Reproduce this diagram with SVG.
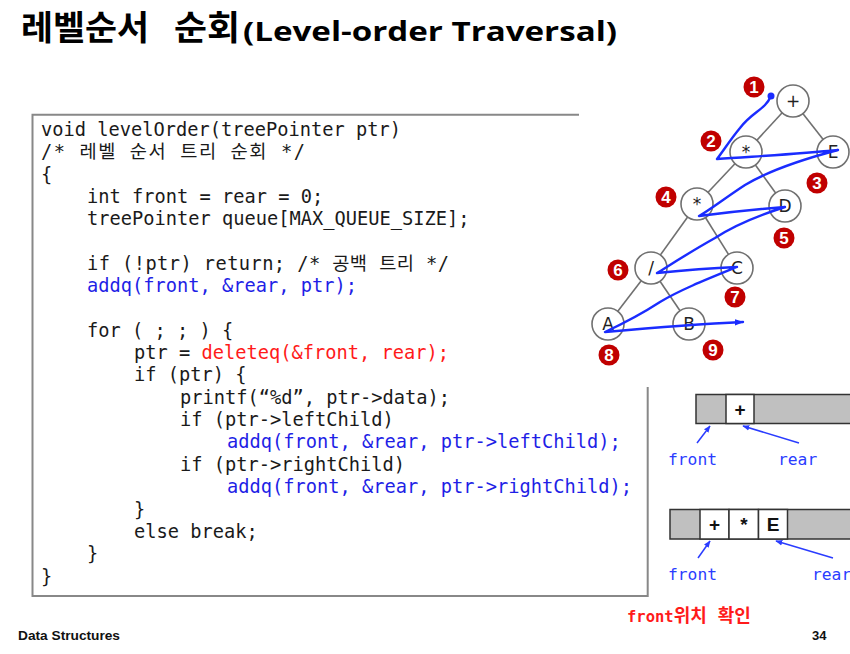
<svg xmlns="http://www.w3.org/2000/svg" width="850" height="654" viewBox="0 0 850 654">
<defs>
<style>
.code{font-family:"DejaVu Sans Mono","Noto Sans CJK KR",monospace;font-size:18.7px;fill:#1a1a1a}
.blue{fill:#1f1fe6}
.red{fill:#ff1a1a}
.edge{stroke:#707070;stroke-width:1.6;fill:none}
.node circle{fill:#fff;stroke:#707070;stroke-width:1.6}
.node text{font-family:"DejaVu Sans","Liberation Sans",sans-serif;font-size:17px;fill:#222;text-anchor:middle}
.num circle{fill:#c00000}
.num text{font-family:"Liberation Sans",sans-serif;font-weight:bold;font-size:17px;fill:#fff;text-anchor:middle}
.path{stroke:#1a2cff;stroke-width:2.4;fill:none;stroke-linecap:round;stroke-linejoin:round}
.gray{fill:#c0c0c0;stroke:#333;stroke-width:1.5}
.cell{fill:#fff;stroke:#333;stroke-width:1.5}
.ctext{font-family:"Liberation Sans",sans-serif;font-weight:bold;font-size:19px;fill:#111;text-anchor:middle}
.qarrow{stroke:#2a3cff;stroke-width:1.5;fill:none}
.qlabel{font-family:"DejaVu Sans Mono","Liberation Mono",monospace;font-size:16.3px;fill:#2a3cff}
</style>
<marker id="ah" viewBox="0 0 10 10" refX="9" refY="5" markerWidth="7" markerHeight="7" orient="auto" markerUnits="userSpaceOnUse">
<path d="M0,1 L10,5 L0,9 z" fill="#2a3cff"/>
</marker>
<marker id="ahb" viewBox="0 0 10 10" refX="9" refY="5" markerWidth="9" markerHeight="9" orient="auto" markerUnits="userSpaceOnUse">
<path d="M0,1.5 L10,5 L0,8.5 z" fill="#1a2cff"/>
</marker>
</defs>
<rect width="850" height="654" fill="#fff"/>

<!-- Title -->
<g id="title">
<text x="21" y="40" font-family="'Noto Sans CJK KR',sans-serif" font-weight="bold" font-size="34px" fill="#000" textLength="128" lengthAdjust="spacingAndGlyphs">레벨순서</text>
<text x="174" y="40" font-family="'Noto Sans CJK KR',sans-serif" font-weight="bold" font-size="34px" fill="#000" textLength="66" lengthAdjust="spacingAndGlyphs">순회</text>
<text x="243" y="41" font-family="'Open Sans','Liberation Sans',sans-serif" font-weight="bold" font-size="26px" fill="#000" textLength="374" lengthAdjust="spacingAndGlyphs">(Level-order Traversal)</text>
</g>

<!-- Code box -->
<g id="code">
<path d="M579,114.7 H32.5 V596 H647.7 V387" fill="none" stroke="#888" stroke-width="2"/>
<text class="code" x="41" y="136">void levelOrder(treePointer ptr)</text>
<text class="code" x="41" y="158" textLength="264" lengthAdjust="spacing">/* 레벨 순서 트리 순회 */</text>
<text class="code" x="41" y="181">{</text>
<text class="code" x="87" y="203">int front = rear = 0;</text>
<text class="code" x="87" y="225">treePointer queue[MAX_QUEUE_SIZE];</text>
<text class="code" x="87" y="270" textLength="362" lengthAdjust="spacing">if (!ptr) return; /* 공백 트리 */</text>
<text class="code blue" x="87" y="292">addq(front, &amp;rear, ptr);</text>
<text class="code" x="87" y="337">for ( ; ; ) {</text>
<text class="code" x="134" y="359">ptr = <tspan class="red">deleteq(&amp;front, rear);</tspan></text>
<text class="code" x="134" y="381">if (ptr) {</text>
<text class="code" x="180" y="404">printf(“%d”, ptr-&gt;data);</text>
<text class="code" x="180" y="426">if (ptr-&gt;leftChild)</text>
<text class="code blue" x="227" y="448">addq(front, &amp;rear, ptr-&gt;leftChild);</text>
<text class="code" x="180" y="471">if (ptr-&gt;rightChild)</text>
<text class="code blue" x="227" y="493">addq(front, &amp;rear, ptr-&gt;rightChild);</text>
<text class="code" x="134" y="516">}</text>
<text class="code" x="134" y="538">else break;</text>
<text class="code" x="87" y="560">}</text>
<text class="code" x="41" y="583">}</text>
</g>

<!-- Tree edges -->
<g id="connectors">
<line class="edge" x1="793" y1="101" x2="746" y2="152"/>
<line class="edge" x1="793" y1="101" x2="833" y2="152"/>
<line class="edge" x1="746" y1="152" x2="697" y2="204"/>
<line class="edge" x1="746" y1="152" x2="785" y2="206"/>
<line class="edge" x1="697" y1="204" x2="651" y2="268"/>
<line class="edge" x1="697" y1="204" x2="737" y2="268"/>
<line class="edge" x1="651" y1="268" x2="608" y2="324"/>
<line class="edge" x1="651" y1="268" x2="689" y2="324"/>
</g>

<!-- Tree nodes -->
<g id="n-plus" class="node"><circle cx="793" cy="101" r="16"/><text x="793" y="107">+</text></g>
<g id="n-star1" class="node"><circle cx="746" cy="152" r="16"/><text x="746" y="158">*</text></g>
<g id="n-E" class="node"><circle cx="833" cy="152" r="16"/><text x="833" y="158">E</text></g>
<g id="n-star2" class="node"><circle cx="697" cy="204" r="16"/><text x="697" y="210">*</text></g>
<g id="n-D" class="node"><circle cx="785" cy="206" r="16"/><text x="785" y="212">D</text></g>
<g id="n-slash" class="node"><circle cx="651" cy="268" r="16"/><text x="651" y="274">/</text></g>
<g id="n-C" class="node"><circle cx="737" cy="268" r="16"/><text x="737" y="274">C</text></g>
<g id="n-A" class="node"><circle cx="608" cy="324" r="16"/><text x="608" y="330">A</text></g>
<g id="n-B" class="node"><circle cx="689" cy="324" r="16"/><text x="689" y="330">B</text></g>

<!-- Traversal path -->
<g id="traversal">
<circle cx="771" cy="96" r="3.5" fill="#1a2cff"/>
<path class="path" marker-end="url(#ahb)" d="M771,96 C765,110 752,112 740,128 C730,140 724,150 717,159 C760,156 800,154 838,150 C800,160 770,170 745,185 C725,198 710,210 699,216 C730,212 760,209 785,207 C760,215 735,225 715,238 C690,252 670,265 657,273 C685,270 710,268 737,267 C705,280 680,290 660,302 C640,315 620,325 605,332 C650,328 700,324 743,322"/>
</g>

<!-- Step numbers -->
<g id="s1" class="num"><circle cx="754" cy="87" r="10.5"/><text x="754" y="93">1</text></g>
<g id="s2" class="num"><circle cx="711" cy="141" r="10.5"/><text x="711" y="147">2</text></g>
<g id="s3" class="num"><circle cx="817" cy="183" r="10.5"/><text x="817" y="189">3</text></g>
<g id="s4" class="num"><circle cx="666" cy="197" r="10.5"/><text x="666" y="203">4</text></g>
<g id="s5" class="num"><circle cx="784" cy="238" r="10.5"/><text x="784" y="244">5</text></g>
<g id="s6" class="num"><circle cx="618" cy="270" r="10.5"/><text x="618" y="276">6</text></g>
<g id="s7" class="num"><circle cx="735" cy="297" r="10.5"/><text x="735" y="303">7</text></g>
<g id="s8" class="num"><circle cx="609" cy="355" r="10.5"/><text x="609" y="361">8</text></g>
<g id="s9" class="num"><circle cx="713" cy="350" r="10.5"/><text x="713" y="356">9</text></g>

<!-- Queue 1 -->
<g id="queue1">
<rect class="gray" x="696" y="394.5" width="160" height="29"/>
<rect class="cell" x="726" y="394.5" width="28" height="29"/>
<text class="ctext" x="740" y="416">+</text>
<line class="qarrow" x1="697" y1="443" x2="710" y2="426" marker-end="url(#ah)"/>
<line class="qarrow" x1="799" y1="443" x2="743" y2="426" marker-end="url(#ah)"/>
<text class="qlabel" x="668" y="465">front</text>
<text class="qlabel" x="778" y="465">rear</text>
</g>

<!-- Queue 2 -->
<g id="queue2">
<rect class="gray" x="670" y="509.5" width="186" height="29.5"/>
<rect class="cell" x="700" y="509.5" width="29" height="29.5"/>
<rect class="cell" x="729" y="509.5" width="29.5" height="29.5"/>
<rect class="cell" x="758.5" y="509.5" width="29" height="29.5"/>
<text class="ctext" x="714.5" y="531">+</text>
<text class="ctext" x="744" y="531">*</text>
<text class="ctext" x="773" y="531">E</text>
<line class="qarrow" x1="698" y1="558" x2="710" y2="541" marker-end="url(#ah)"/>
<line class="qarrow" x1="833" y1="558" x2="776" y2="541" marker-end="url(#ah)"/>
<text class="qlabel" x="668" y="580">front</text>
<text class="qlabel" x="812" y="580">rear</text>
</g>

<text x="627" y="622" font-family="'DejaVu Sans Mono','Noto Sans CJK KR',monospace" font-weight="bold" font-size="15.5px" fill="#ff1a1a">front<tspan font-size="18px">위치 확인</tspan></text>

<!-- Footer -->
<text x="18" y="640" font-family="'Liberation Sans',sans-serif" font-weight="bold" font-size="12.5px" fill="#111" textLength="102" lengthAdjust="spacingAndGlyphs">Data Structures</text>
<text x="812" y="640" font-family="'Liberation Sans',sans-serif" font-weight="bold" font-size="13px" fill="#111">34</text>
</svg>
